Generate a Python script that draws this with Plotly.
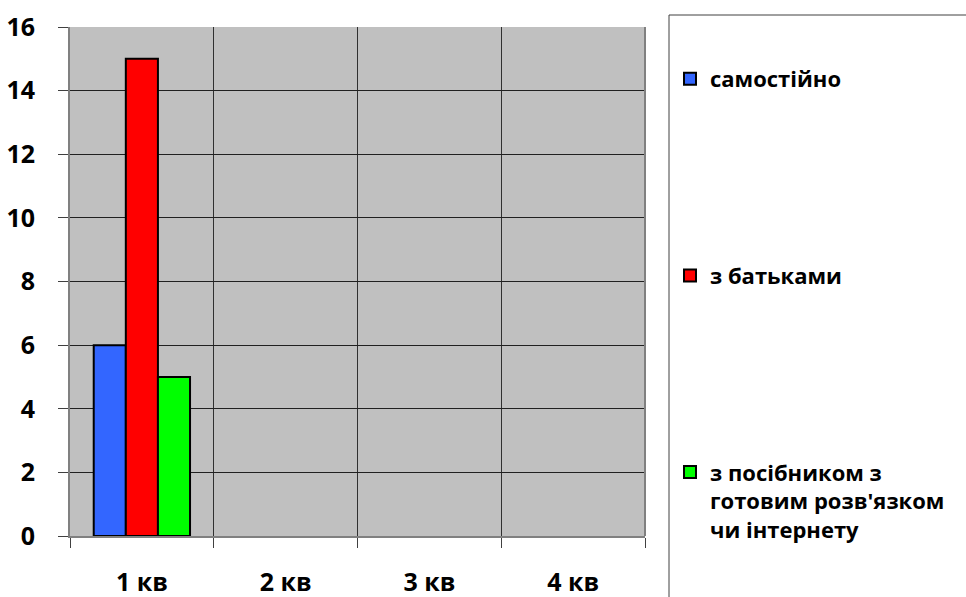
import plotly.graph_objects as go

categories = ["1 кв", "2 кв", "3 кв", "4 кв"]
series_names = ["самостійно", "з батьками", "з посібником з<br>готовим розв'язком<br>чи інтернету"]
samostiyno = [6, None, None, None]
z_batkamy = [15, None, None, None]
z_posibnykom = [5, None, None, None]
colors = ["#3366FF", "#FF0000", "#00FF00"]
y_ticks = [0, 2, 4, 6, 8, 10, 12, 14, 16]

fig = go.Figure()
for name, vals, col, grp in zip(series_names, [samostiyno, z_batkamy, z_posibnykom], colors, ["a", "b", "c"]):
    fig.add_trace(go.Bar(x=categories, y=vals, name=name, legendgroup=grp,
                         marker=dict(color=col, line=dict(color="black", width=2))))

font_family = "Open Sans"
fig.update_layout(
    width=966, height=597,
    margin=dict(l=70, r=321, t=27, b=61, autoexpand=False),
    paper_bgcolor="white", plot_bgcolor="#C0C0C0",
    barmode="group", bargap=0.33, bargroupgap=0,
    showlegend=True,
    legend=dict(x=(670 - 70) / 575, xanchor="left", y=(536 - 58) / 509, yanchor="top", valign="top",
                traceorder="grouped", tracegroupgap=165,
                font=dict(family=font_family, size=22, color="black", weight="bold"),
                bgcolor="rgba(0,0,0,0)", borderwidth=0),
    font=dict(family=font_family, color="black"),
)
fig.update_xaxes(
    type="category", tickson="boundaries", showgrid=True, gridcolor="#303030", gridwidth=1,
    showline=True, linecolor="#808080", linewidth=2, ticks="outside", ticklen=10,
    tickcolor="#404040", tickfont=dict(family=font_family, size=25, weight="bold", color="black"),
    ticklabelstandoff=23,
)
fig.update_yaxes(
    range=[0, 16], tickvals=y_ticks, showgrid=True, gridcolor="#202020", gridwidth=1,
    showline=True, linecolor="#808080", linewidth=2, ticks="outside", ticklen=10,
    tickcolor="#404040", tickfont=dict(family=font_family, size=25, weight="bold", color="black"),
    ticklabelstandoff=18, zeroline=False,
)
fig.add_shape(type="line", xref="paper", yref="paper", x0=1, x1=1, y0=0, y1=1,
              line=dict(color="#808080", width=2))
fig.add_shape(type="rect", xref="paper", yref="paper", x0=(669 - 70) / 575, x1=1.7,
              y0=(536 - 15) / 509, y1=-0.3,
              line=dict(color="#404040", width=1), fillcolor="rgba(0,0,0,0)", layer="above")
fig.write_html("out.html", config={"displayModeBar": False},
               post_script="document.body.style.margin='0';document.body.style.overflow='hidden';")
